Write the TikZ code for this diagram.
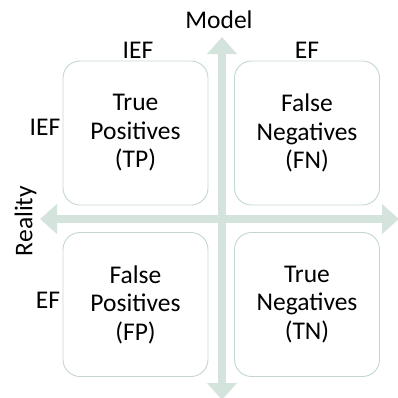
\documentclass[tikz,border=0pt]{standalone}
\usepackage{fontspec}
\setmainfont{Carlito}
\usetikzlibrary{arrows.meta}
\definecolor{axisgreen}{HTML}{D5E3DD}
\definecolor{boxline}{HTML}{C3D6CE}
\begin{document}
\begin{tikzpicture}[x=1bp,y=-1bp,
  every node/.style={font=\fontsize{25.5bp}{28.5bp}\selectfont, text=black},
  cell/.style={draw=boxline, line width=0.9bp, rounded corners=17bp,
    minimum width=145bp, minimum height=144bp, align=center, inner sep=0pt},
  axis/.style={draw=axisgreen, line width=8bp,
    {Triangle[length=17bp,width=29bp]}-{Triangle[length=17bp,width=29bp]}}]
\useasboundingbox (0,0) rectangle (398,398);
% axes
\coordinate (vtop) at (222,37);
\coordinate (vbot) at (222,400);
\coordinate (hl) at (40,219);
\coordinate (hr) at (399,219);
\draw[axis] (vbot) -- (vtop);
\draw[axis] (hl) -- (hr);
% quadrants
\node[cell] (tp) at (135.5,133) {True\\Positives\\(TP)};
\node[cell] (fn) at (307,133) {False\\Negatives\\(FN)};
\node[cell] (fp) at (135.5,304.5) {False\\Positives\\(FP)};
\node[cell] (tn) at (307,304.5) {True\\Negatives\\(TN)};
% axis labels
\node (model) at (219,20) {Model};
\node[rotate=90] (reality) at (25.5,221) {Reality};
\node (colief) at (138,50) {IEF};
\node (colef) at (307,50) {EF};
\node (rowief) at (45,127) {IEF};
\node (rowef) at (48,300) {EF};
\end{tikzpicture}
\end{document}
